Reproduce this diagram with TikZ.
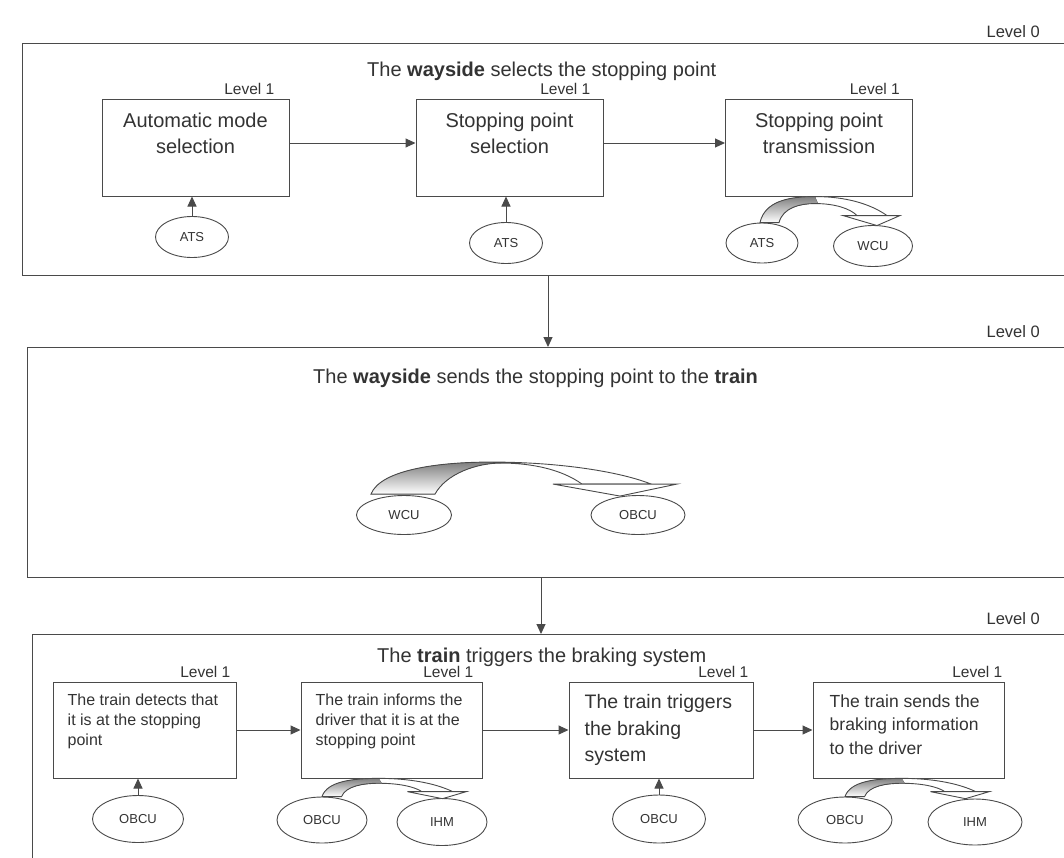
\documentclass[tikz,border=0pt]{standalone}
\usepackage{fontspec}
\setmainfont{Liberation Sans}
\usetikzlibrary{arrows.meta, shapes.geometric}
\definecolor{linec}{HTML}{4A4A4A}
\definecolor{textc}{HTML}{333333}
\definecolor{shade}{HTML}{C4C4C4}

\tikzset{
  frame/.style={draw=linec, line width=1.3pt, rectangle, anchor=north west, inner sep=0},
  procbox/.style={draw=linec, line width=1pt, rectangle, inner sep=0},
  actor/.style={draw=linec, line width=0.9pt, ellipse, inner sep=0, text=textc,
    font=\fontsize{13}{15}\selectfont},
  title/.style={font=\fontsize{20}{24}\selectfont, text=textc, anchor=base west, inner sep=0},
  lvlzero/.style={font=\fontsize{16.5}{18}\selectfont, text=textc, anchor=base east, inner sep=0},
  lvlone/.style={font=\fontsize{15.5}{17}\selectfont, text=textc, anchor=south east,
    inner sep=0, yshift=4pt},
  bigtxt/.style={font=\fontsize{20}{26}\selectfont, text=textc, align=center,
    anchor=north, inner sep=0, yshift=-14pt},
  smalltxt/.style={text=textc, align=left, anchor=north west, inner sep=0,
    xshift=15pt, yshift=-12pt},
  flow/.style={draw=linec, line width=1pt, -{Triangle[length=10pt,width=9pt]}},
  % curved block arrow, tail at the origin
  bentarrow/.pic={
    \fill[white] (0,0) .. controls (5,-22) and (30,-26) .. (55,-26)
      .. controls (85,-26) and (110,-19) .. (127,-7) -- (97,-7)
      .. controls (90,-14) and (75,-19) .. (55,-19)
      .. controls (40,-19) and (23,-15) .. (19,0) -- cycle;
    \fill[shade] (0,0) .. controls (5,-22) and (30,-26) .. (55,-26) -- (58,-19)
      .. controls (40,-19) and (23,-15) .. (19,0) -- cycle;
    \draw[linec, line width=0.9pt] (0,0) .. controls (5,-22) and (30,-26) .. (55,-26)
      .. controls (85,-26) and (110,-19) .. (127,-7) -- (97,-7)
      .. controls (90,-14) and (75,-19) .. (55,-19)
      .. controls (40,-19) and (23,-15) .. (19,0) -- cycle;
    \filldraw[fill=white, draw=linec, line width=0.9pt] (83,-7) -- (140,-7) -- (117,3) -- cycle;
  },
  bigbentarrow/.pic={
    \fill[white] (0,0) .. controls (10,-25) and (70,-32) .. (120,-32)
      .. controls (190,-32) and (250,-22) .. (280,-10) -- (211,-10)
      .. controls (190,-25) and (160,-31) .. (130,-31)
      .. controls (105,-31) and (75,-20) .. (64,0) -- cycle;
    \fill[shade] (0,0) .. controls (10,-25) and (70,-32) .. (120,-32) -- (130,-31)
      .. controls (105,-31) and (75,-20) .. (64,0) -- cycle;
    \draw[linec, line width=0.9pt] (0,0) .. controls (10,-25) and (70,-32) .. (120,-32)
      .. controls (190,-32) and (250,-22) .. (280,-10) -- (211,-10)
      .. controls (190,-25) and (160,-31) .. (130,-31)
      .. controls (105,-31) and (75,-20) .. (64,0) -- cycle;
    \filldraw[fill=white, draw=linec, line width=0.9pt] (182,-10) -- (306,-10) -- (249,2) -- cycle;
  },
}

\begin{document}
\begin{tikzpicture}[x=1pt, y=-1pt]
  \useasboundingbox (0,0) rectangle (1064,857);
  \fill[white] (0,0) rectangle (1064,857);
  \clip (0,0) rectangle (1064,857);

  % level 0 frames
  \node[frame, minimum width=1080pt, minimum height=232pt] (wayside) at (22,43) {};
  \node[frame, minimum width=1080pt, minimum height=230pt] (sendpt) at (27,347) {};
  \node[frame, minimum width=1080pt, minimum height=260pt] (trainbr) at (32,634) {};
  \node[lvlzero] (lzero1) at (1040,37) {Level 0};
  \node[lvlzero] (lzero2) at (1040,337) {Level 0};
  \node[lvlzero] (lzero3) at (1040,624) {Level 0};
  \node[title] (title1) at (367,76) {The \textbf{wayside} selects the stopping point};
  \node[title] (title2) at (313,383) {The \textbf{wayside} sends the stopping point to the \textbf{train}};
  \node[title] (title3) at (377,662) {The \textbf{train} triggers the braking system};

  \coordinate (drop1) at (548,0);
  \coordinate (drop2) at (541,0);
  \draw[flow] (wayside.south -| drop1) -- (sendpt.north -| drop1);
  \draw[flow] (sendpt.south -| drop2) -- (trainbr.north -| drop2);

  % wayside selects the stopping point
  \node[procbox, minimum width=187pt, minimum height=97pt,
    label={[lvlone, xshift=-15pt]north east:Level 1},
    label={[bigtxt]north:Automatic mode\\selection}] (ams) at (195.5,147.5) {};
  \node[procbox, minimum width=187pt, minimum height=97pt,
    label={[lvlone, xshift=-13pt]north east:Level 1},
    label={[bigtxt]north:Stopping point\\selection}] (sps) at (509.5,147.5) {};
  \node[procbox, minimum width=187pt, minimum height=97pt,
    label={[lvlone, xshift=-13pt]north east:Level 1},
    label={[bigtxt]north:Stopping point\\transmission}] (spt) at (819,147.5) {};
  \draw[flow] ([yshift=4.5pt]ams.east) -- ([yshift=4.5pt]sps.west);
  \draw[flow] ([yshift=4.5pt]sps.east) -- ([yshift=4.5pt]spt.west);

  \node[actor, minimum width=73pt, minimum height=41pt] (ats1) at (192,237) {ATS};
  \node[actor, minimum width=73pt, minimum height=41pt] (ats2) at (506,243) {ATS};
  \node[actor, minimum width=72pt, minimum height=40pt] (ats3) at (762,243) {ATS};
  \node[actor, minimum width=79pt, minimum height=41pt] (wcu1) at (873,246) {WCU};
  \draw[flow] (ats1.north) -- (ats1.north |- ams.south);
  \draw[flow] (ats2.north) -- (ats2.north |- sps.south);
  \pic at ([xshift=-2pt]ats3.north) {bentarrow};

  % wayside sends the stopping point
  \node[actor, minimum width=95pt, minimum height=39pt] (wcu2) at (404,515) {WCU};
  \node[actor, minimum width=94pt, minimum height=39pt] (obcu0) at (638,515) {OBCU};
  \pic at ([xshift=-33pt, yshift=1pt]wcu2.north) {bigbentarrow};

  % train triggers the braking system
  \node[procbox, minimum width=183pt, minimum height=96pt,
    label={[lvlone, xshift=-6pt]north east:Level 1},
    label={[smalltxt, font=\fontsize{16}{20}\selectfont]north west:The train detects that\\it is at the stopping\\point}] (detect) at (144.5,730) {};
  \node[procbox, minimum width=181pt, minimum height=96pt,
    label={[lvlone, xshift=-9pt]north east:Level 1},
    label={[smalltxt, font=\fontsize{16}{20}\selectfont]north west:The train informs the\\driver that it is at the\\stopping point}] (inform) at (391.5,730) {};
  \node[procbox, minimum width=184pt, minimum height=96pt,
    label={[lvlone, xshift=-5pt]north east:Level 1},
    label={[smalltxt, xshift=1pt, yshift=-1pt, font=\fontsize{19.5}{26.5}\selectfont]north west:The train triggers\\the braking\\system}] (trigger) at (661,730) {};
  \node[procbox, minimum width=191pt, minimum height=96pt,
    label={[lvlone, xshift=-2pt]north east:Level 1},
    label={[smalltxt, xshift=2pt, yshift=-1pt, font=\fontsize{17.5}{23.5}\selectfont]north west:The train sends the\\braking information\\to the driver}] (sendinfo) at (908.5,730) {};
  \draw[flow] (detect) -- (inform);
  \draw[flow] (inform) -- (trigger);
  \draw[flow] (trigger) -- (sendinfo);

  \node[actor, minimum width=91pt, minimum height=47pt] (obcu1) at (138,819) {OBCU};
  \node[actor, minimum width=90pt, minimum height=46pt] (obcu2) at (322,820) {OBCU};
  \node[actor, minimum width=90pt, minimum height=47pt] (ihm2) at (442,822) {IHM};
  \node[actor, minimum width=93pt, minimum height=48pt] (obcu3) at (659,819) {OBCU};
  \node[actor, minimum width=94pt, minimum height=46pt] (obcu4) at (845,820) {OBCU};
  \node[actor, minimum width=94pt, minimum height=46pt] (ihm4) at (975,822) {IHM};
  \draw[flow] (obcu1.north) -- (obcu1.north |- detect.south);
  \draw[flow] (obcu3.north) -- (obcu3.north |- trigger.south);
  \pic[xscale=1.03, yscale=0.7] at (obcu2.north) {bentarrow};
  \pic[xscale=1.03, yscale=0.7] at (obcu4.north) {bentarrow};
\end{tikzpicture}
\end{document}
